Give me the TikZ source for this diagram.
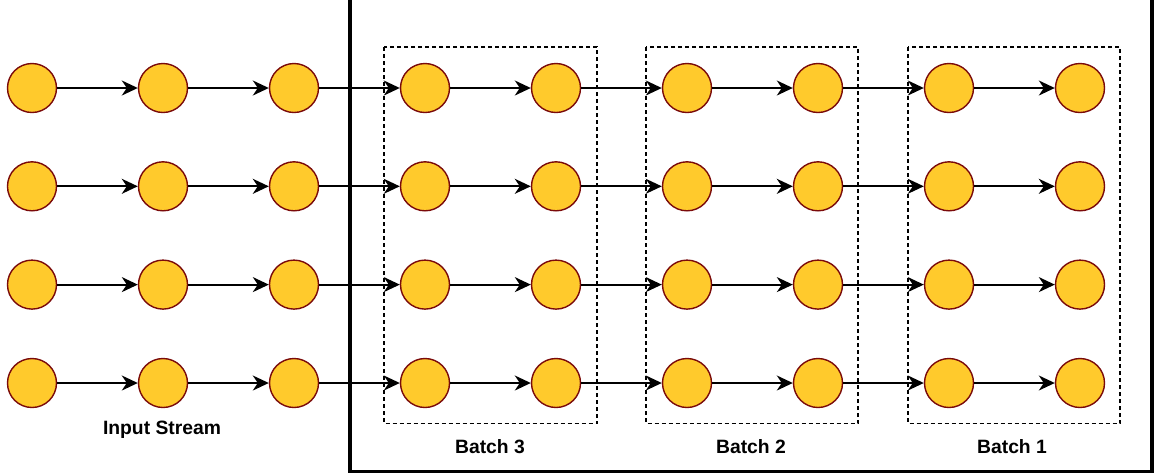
\documentclass[tikz,border=0pt]{standalone}
\usepackage{fontspec}
\setmainfont{Liberation Sans}
\usetikzlibrary{arrows.meta}
\definecolor{dotfill}{HTML}{FFCA2C}
\definecolor{dotline}{HTML}{7A0A0A}
\tikzset{
  dot/.style={circle, draw=dotline, fill=dotfill, line width=1.4pt,
    minimum size=49pt, inner sep=0pt},
  link/.style={line width=1.8pt, -{Stealth[length=16pt,width=15pt,inset=5pt]}},
  batchbox/.style={draw, line width=1.2pt, dash pattern=on 4pt off 3pt},
  frame/.style={draw, line width=3.5pt},
  caption/.style={font=\fontsize{19.3}{22}\selectfont\bfseries, inner sep=0pt}
}
\begin{document}
\begin{tikzpicture}[x=1pt,y=-1pt]
\useasboundingbox (0,0) rectangle (1155,475);
% processing area
\draw[frame] (350,-20) rectangle (1152,471.5);
% batch windows
\draw[batchbox] (384,47) rectangle (597,423.5);
\draw[batchbox] (646,47) rectangle (858,423.5);
\draw[batchbox] (908,47) rectangle (1120,423.5);
% stream elements
\foreach \r/\y in {1/88,2/186.3,3/284.6,4/383} {
  \foreach \k in {1,...,9} {
    \node[dot] (c-\r-\k) at ({32+131*(\k-1)},\y) {};
  }
  \foreach \k [evaluate=\k as \n using int(\k+1)] in {1,...,8} {
    \draw[link] (c-\r-\k) -- (c-\r-\n);
  }
}
% captions
\node[caption] (lin) at (162,430) {Input Stream};
\node[caption] (lb3) at (490,446.5) {Batch 3};
\node[caption] (lb2) at (751,446.5) {Batch 2};
\node[caption] (lb1) at (1012,446.5) {Batch 1};
\end{tikzpicture}
\end{document}
